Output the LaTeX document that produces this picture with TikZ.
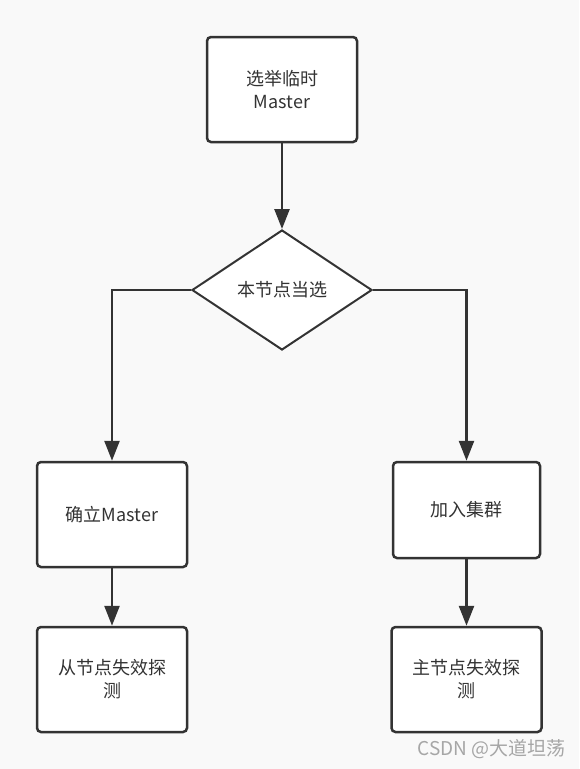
\documentclass[tikz,border=0pt]{standalone}
\usepackage{fontspec}
\setmainfont{Noto Sans CJK SC}
\usetikzlibrary{shapes.geometric,arrows.meta}
\definecolor{bg}{HTML}{F9F9F9}
\definecolor{ink}{HTML}{333333}
\tikzset{
  stepbox/.style={draw=ink, fill=white, line width=2.5pt, rounded corners=4pt, inner sep=0pt, align=center, text=ink, font=\fontsize{18}{23}\selectfont},
  decision/.style={draw=ink, fill=white, line width=2pt, diamond, aspect=1.5, minimum width=180pt, minimum height=120pt, inner sep=0pt, text=ink, font=\fontsize{18}{23}\selectfont},
  arr/.style={draw=ink, line width=2.5pt, -{Triangle[length=20pt,width=15pt]}}
}
\begin{document}
\begin{tikzpicture}[x=1pt,y=-1pt]
\fill[bg] (0,0) rectangle (579,769);
\useasboundingbox (0,0) rectangle (579,769);
\node[stepbox, minimum width=150pt, minimum height=105pt] (elect) at (282,89.5) {选举临时\\Master};
\node[decision] (cur) at (282,290) {本节点当选};
\node[stepbox, minimum width=150pt, minimum height=105pt] (confirm) at (112,514.5) {确立Master};
\node[stepbox, minimum width=150pt, minimum height=105pt] (slave) at (112,679.5) {从节点失效探\\测};
\node[stepbox, minimum width=147pt, minimum height=96pt] (join) at (466.5,510) {加入集群};
\node[stepbox, minimum width=150pt, minimum height=105pt] (master) at (466.5,679.5) {主节点失效探\\测};
\draw[arr] (elect.south) -- (cur.north);
\draw[arr] (cur.west) -| (confirm.north);
\draw[arr] (cur.east) -| (join.north);
\draw[arr] (confirm.south) -- (slave.north);
\draw[arr] (join.south) -- (master.north);
\node[text=black!35, font=\fontsize{19}{22}\selectfont, anchor=east, inner sep=0pt] (wm) at (566,749) {CSDN @大道坦荡};
\end{tikzpicture}
\end{document}
